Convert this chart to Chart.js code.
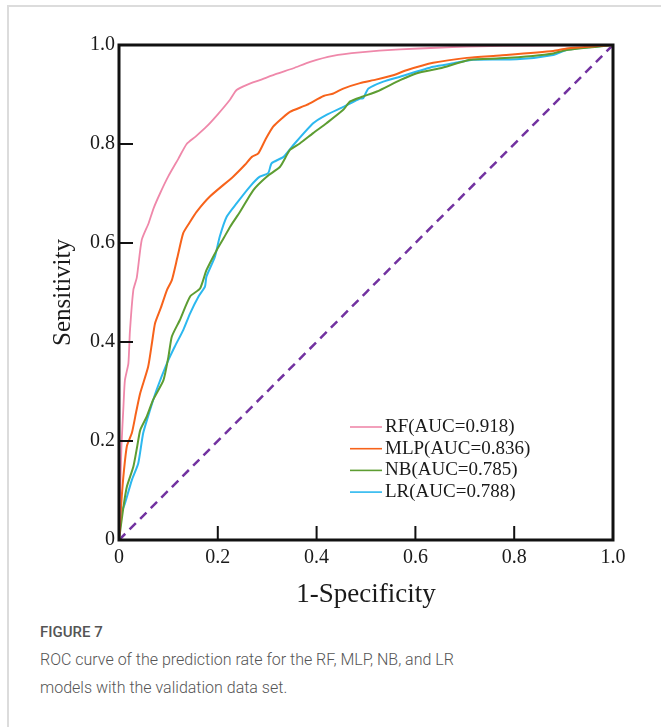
<!DOCTYPE html>
<html>
<head>
<meta charset="utf-8">
<script src="https://cdn.jsdelivr.net/npm/chart.js@4/dist/chart.umd.min.js"></script>
<style>
  body { margin: 0; background: #fff; }
  #card { position: absolute; left: 7px; top: 5px; width: 700px; height: 760px;
          border-left: 2px solid #dcdcdc; border-top: 2px solid #dcdcdc; }
  #wrap { position: absolute; left: 0; top: 0; }
  #figLabel { position: absolute; left: 40px; top: 623px; font: 500 15px Roboto, sans-serif; color: #555; }
  #figText { position: absolute; left: 40px; top: 646px; font: 300 16px Roboto, sans-serif; color: #555; line-height: 28px; }
</style>
</head>
<body>
<div id="card"></div>
<div id="wrap"><canvas id="roc" width="661" height="620"></canvas></div>
<div id="figLabel">FIGURE 7</div>
<div id="figText">ROC curve of the prediction rate for the RF, MLP, NB, and LR<br>models with the validation data set.</div>
<script>
// ROC points (x = 1-specificity, y = sensitivity)
const rfX = [0, 0.003, 0.005, 0.009, 0.012, 0.019, 0.022, 0.029, 0.036, 0.046, 0.06, 0.07, 0.083, 0.10, 0.12, 0.137, 0.155, 0.177, 0.20, 0.225, 0.238, 0.26, 0.285, 0.32, 0.353, 0.387, 0.433, 0.488, 0.569, 0.704, 0.85, 1];
const rfY = [0, 0.12, 0.19, 0.27, 0.323, 0.357, 0.42, 0.505, 0.53, 0.606, 0.64, 0.67, 0.70, 0.735, 0.77, 0.80, 0.815, 0.835, 0.86, 0.89, 0.909, 0.92, 0.929, 0.942, 0.953, 0.966, 0.978, 0.985, 0.991, 0.997, 0.999, 1];

const mlpX = [0, 0.005, 0.01, 0.016, 0.026, 0.035, 0.043, 0.059, 0.067, 0.073, 0.085, 0.097, 0.107, 0.118, 0.130, 0.142, 0.157, 0.184, 0.231, 0.255, 0.269, 0.282, 0.297, 0.312, 0.330, 0.346, 0.38, 0.414, 0.434, 0.454, 0.488, 0.52, 0.555, 0.582, 0.636, 0.704, 0.771, 0.879, 0.906, 1];
const mlpY = [0, 0.08, 0.14, 0.19, 0.216, 0.26, 0.297, 0.35, 0.40, 0.438, 0.47, 0.505, 0.525, 0.57, 0.62, 0.64, 0.663, 0.694, 0.734, 0.758, 0.774, 0.781, 0.81, 0.835, 0.852, 0.865, 0.879, 0.897, 0.902, 0.912, 0.923, 0.930, 0.939, 0.949, 0.964, 0.974, 0.979, 0.988, 0.993, 1];

const nbX = [0, 0.009, 0.016, 0.029, 0.037, 0.043, 0.056, 0.069, 0.09, 0.1, 0.107, 0.123, 0.144, 0.164, 0.177, 0.198, 0.212, 0.225, 0.245, 0.272, 0.299, 0.326, 0.346, 0.366, 0.393, 0.420, 0.454, 0.468, 0.494, 0.522, 0.569, 0.603, 0.65, 0.711, 0.771, 0.838, 0.879, 0.906, 1];
const nbY = [0, 0.067, 0.108, 0.148, 0.19, 0.222, 0.249, 0.283, 0.323, 0.37, 0.411, 0.444, 0.492, 0.508, 0.545, 0.586, 0.61, 0.633, 0.663, 0.707, 0.734, 0.754, 0.788, 0.801, 0.822, 0.842, 0.869, 0.886, 0.896, 0.906, 0.929, 0.943, 0.953, 0.970, 0.973, 0.978, 0.983, 0.99, 1];

const lrX = [0, 0.005, 0.012, 0.026, 0.039, 0.049, 0.063, 0.076, 0.097, 0.113, 0.130, 0.144, 0.161, 0.174, 0.177, 0.194, 0.204, 0.218, 0.238, 0.265, 0.285, 0.302, 0.309, 0.333, 0.353, 0.393, 0.420, 0.454, 0.488, 0.494, 0.505, 0.535, 0.569, 0.636, 0.677, 0.717, 0.805, 0.879, 0.906, 1];
const lrY = [0, 0.054, 0.074, 0.121, 0.155, 0.216, 0.263, 0.303, 0.357, 0.391, 0.424, 0.458, 0.492, 0.512, 0.532, 0.572, 0.613, 0.653, 0.680, 0.714, 0.734, 0.741, 0.761, 0.774, 0.798, 0.842, 0.859, 0.875, 0.892, 0.892, 0.912, 0.926, 0.936, 0.956, 0.963, 0.970, 0.971, 0.980, 0.990, 1];

const refX = [0, 1];
const refY = [0, 1];

const seriesLabels = ['RF(AUC=0.918)', 'MLP(AUC=0.836)', 'NB(AUC=0.785)', 'LR(AUC=0.788)'];
const tickValues = [0, 0.2, 0.4, 0.6, 0.8, 1.0];

function pts(xs, ys) {
  return xs.map((x, i) => ({ x: x, y: ys[i] }));
}

const serif = '"Liberation Serif", "Times New Roman", serif';

// thick frame + inward tick marks + legend inside the plot
const framePlugin = {
  id: 'frame',
  afterDatasetsDraw(chart) {
    const { ctx, chartArea: a, scales } = chart;
    ctx.save();
    ctx.strokeStyle = '#111';
    ctx.lineWidth = 2;
    tickValues.slice(1, -1).forEach(v => {
      const px = scales.x.getPixelForValue(v);
      const py = scales.y.getPixelForValue(v);
      ctx.beginPath();
      ctx.moveTo(px, a.bottom); ctx.lineTo(px, a.bottom - 14);
      ctx.moveTo(a.left, py); ctx.lineTo(a.left + 14, py);
      ctx.stroke();
    });
    ctx.lineWidth = 3;
    ctx.strokeRect(a.left, a.top, a.right - a.left, a.bottom - a.top);

    // legend
    ctx.font = '19px ' + serif;
    ctx.textBaseline = 'middle';
    ctx.fillStyle = '#1a1a1a';
    const lx = a.left + 231, ly = a.top + 382;
    seriesLabels.forEach((lab, i) => {
      const ds = chart.data.datasets[i];
      const y = ly + i * 21.7;
      ctx.strokeStyle = ds.borderColor;
      ctx.lineWidth = 1.6;
      ctx.beginPath();
      ctx.moveTo(lx, y); ctx.lineTo(lx + 32, y);
      ctx.stroke();
      ctx.fillText(lab, lx + 35, y);
    });
    ctx.restore();
  }
};

const ctx = document.getElementById('roc').getContext('2d');
new Chart(ctx, {
  type: 'line',
  data: {
    datasets: [
      { label: seriesLabels[0], data: pts(rfX, rfY), borderColor: '#ef88aa', borderWidth: 1.8 },
      { label: seriesLabels[1], data: pts(mlpX, mlpY), borderColor: '#f7631b', borderWidth: 2 },
      { label: seriesLabels[2], data: pts(nbX, nbY), borderColor: '#5d9d32', borderWidth: 2 },
      { label: seriesLabels[3], data: pts(lrX, lrY), borderColor: '#2cb8ef', borderWidth: 2 },
      { label: 'ref', data: pts(refX, refY), borderColor: '#7232a0', borderWidth: 2.5, borderDash: [9, 6] },
    ],
  },
  options: {
    responsive: false,
    animation: false,
    layout: { padding: { left: 0, top: 45, right: 48, bottom: 0 } },
    elements: {
      point: { radius: 0 },
      line: { tension: 0.2, fill: false },
    },
    plugins: {
      legend: { display: false },
      tooltip: { enabled: false },
    },
    scales: {
      x: {
        type: 'linear',
        min: 0,
        max: 1,
        afterBuildTicks: s => { s.ticks = tickValues.map(v => ({ value: v })); },
        afterFit: s => { s.height = 80; },
        grid: { display: false, drawTicks: false },
        border: { display: false },
        ticks: {
          padding: 6,
          color: '#1a1a1a',
          font: { family: serif, size: 20 },
          callback: v => (v === 0 ? '0' : v.toFixed(1)),
        },
        title: {
          display: true,
          text: '1-Specificity',
          color: '#1a1a1a',
          font: { family: serif, size: 27 },
          padding: { top: 0, bottom: 9 },
        },
      },
      y: {
        type: 'linear',
        min: 0,
        max: 1,
        afterBuildTicks: s => { s.ticks = tickValues.map(v => ({ value: v })); },
        afterFit: s => { s.width = 119; },
        grid: { display: false, drawTicks: false },
        border: { display: false },
        ticks: {
          padding: 4,
          color: '#1a1a1a',
          font: { family: serif, size: 20 },
          callback: v => (v === 0 ? '0' : v.toFixed(1)),
        },
        title: {
          display: true,
          text: 'Sensitivity',
          color: '#1a1a1a',
          font: { family: serif, size: 25 },
          padding: { top: 48, bottom: 0 },
        },
      },
    },
  },
  plugins: [framePlugin],
});
</script>
</body>
</html>
